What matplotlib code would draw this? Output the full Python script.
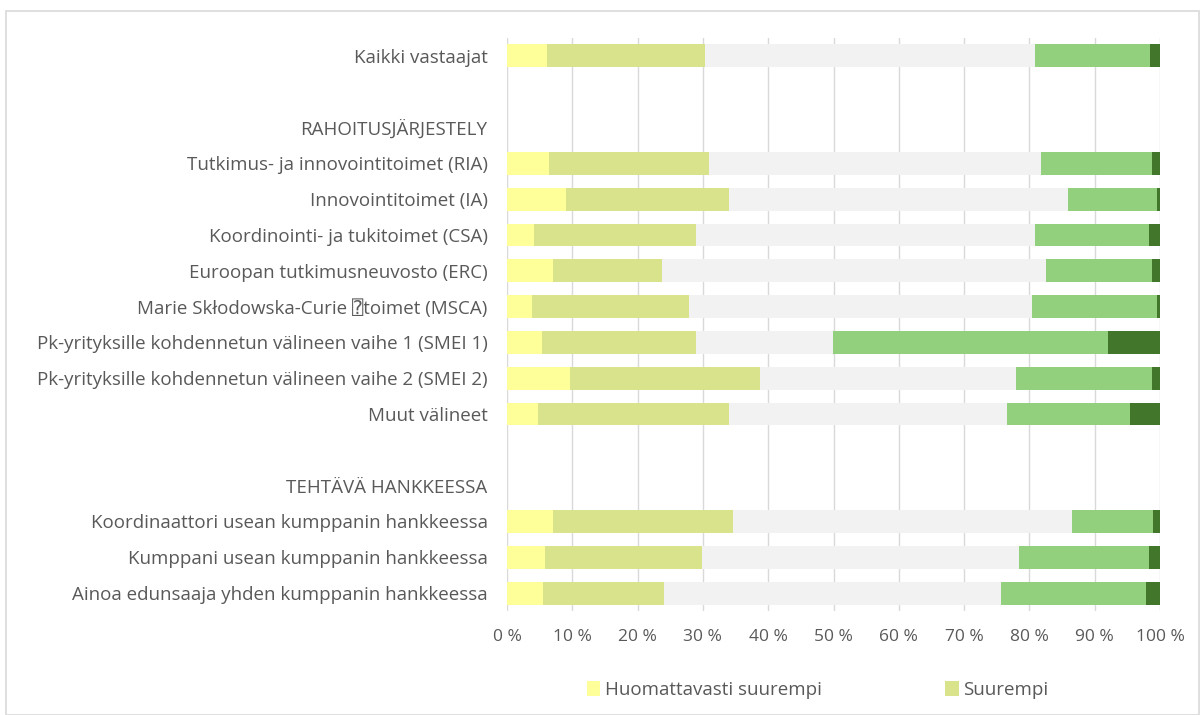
import numpy as np
import matplotlib
matplotlib.use("Agg")
import matplotlib.pyplot as plt
from matplotlib.patches import Rectangle

plt.rcParams['font.family'] = ['Open Sans', 'DejaVu Sans', 'DejaVu Sans Mono']

# rows top to bottom; '' = blank spacer row, headers carry no bar
labels = [
    "Kaikki vastaajat",
    "",
    "RAHOITUSJÄRJESTELY",
    "Tutkimus- ja innovointitoimet (RIA)",
    "Innovointitoimet (IA)",
    "Koordinointi- ja tukitoimet (CSA)",
    "Euroopan tutkimusneuvosto (ERC)",
    "Marie Skłodowska-Curie \u2370toimet (MSCA)",
    "Pk-yrityksille kohdennetun välineen vaihe 1 (SMEI 1)",
    "Pk-yrityksille kohdennetun välineen vaihe 2 (SMEI 2)",
    "Muut välineet",
    "",
    "TEHTÄVÄ HANKKEESSA",
    "Koordinaattori usean kumppanin hankkeessa",
    "Kumppani usean kumppanin hankkeessa",
    "Ainoa edunsaaja yhden kumppanin hankkeessa",
]

series_names = ["Huomattavasti suurempi", "Suurempi", "Samanlainen",
                "Pienempi", "Huomattavasti pienempi"]

nan = np.nan
huom_suurempi = [6.1, nan, nan, 6.4, 9.0, 4.2, 7.0, 3.9, 5.3, 9.7, 4.7, nan, nan, 7.0, 5.8, 5.5]
suurempi      = [24.2, nan, nan, 24.5, 25.0, 24.7, 16.7, 23.9, 23.6, 29.0, 29.3, nan, nan, 27.6, 24.0, 18.5]
samanlainen   = [50.6, nan, nan, 50.9, 51.9, 52.0, 58.8, 52.6, 21.0, 39.2, 42.5, nan, nan, 51.9, 48.6, 51.6]
pienempi      = [17.6, nan, nan, 16.9, 13.7, 17.4, 16.2, 19.2, 42.1, 20.8, 18.9, nan, nan, 12.5, 19.9, 22.3]
huom_pienempi = [1.5, nan, nan, 1.3, 0.4, 1.7, 1.3, 0.4, 8.0, 1.3, 4.6, nan, nan, 1.0, 1.7, 2.1]

colors = ["#FFFF99", "#D9E38C", "#F2F2F2", "#92D07E", "#41762B"]
text_color = "#595959"

fig = plt.figure(figsize=(12.03, 7.15), dpi=100)
ax = fig.add_axes([507 / 1203, 1 - 611 / 715, 653 / 1203, 573 / 715])

# outer chart border
fig.patches.append(Rectangle((6 / 1203, 0), 1193 / 1203, 1 - 11 / 715,
                             transform=fig.transFigure, fill=False,
                             edgecolor="#D9D9D9", linewidth=1.2))

y = np.arange(len(labels))
left = np.zeros(len(labels))
containers = []
for name, vals, col in zip(series_names,
                           [huom_suurempi, suurempi, samanlainen, pienempi, huom_pienempi],
                           colors):
    vals = np.array(vals, dtype=float)
    c = ax.barh(y, vals, left=left, height=0.64, color=col, label=name, zorder=3)
    containers.append(c)
    left = left + np.nan_to_num(vals)

ax.set_ylim(len(labels) - 0.5, -0.5)
ax.set_xlim(0, 100)
ax.set_yticks(y)
ax.set_yticklabels(labels, fontsize=13.5, color=text_color)
ax.set_xticks(np.arange(0, 101, 10))
ax.set_xticklabels([f"{v} %" for v in range(0, 101, 10)], fontsize=12.5, color=text_color)
ax.tick_params(axis="both", length=0)
ax.tick_params(axis="y", pad=14)
ax.tick_params(axis="x", pad=13)
ax.grid(axis="x", color="#D9D9D9", linewidth=1, zorder=0)
for s in ax.spines.values():
    s.set_visible(False)

# only the first two legend entries are visible in the original
fig.legend(handles=containers[:2], labels=series_names[:2],
           loc="center left", bbox_to_anchor=(587 / 1203, 1 - 690 / 715),
           ncol=2, frameon=False, fontsize=13.5, labelcolor=text_color,
           handlelength=0.7, handleheight=0.9, handletextpad=0.25,
           columnspacing=6.6, borderpad=0, borderaxespad=0)

fig.savefig("out.png", dpi=100)
